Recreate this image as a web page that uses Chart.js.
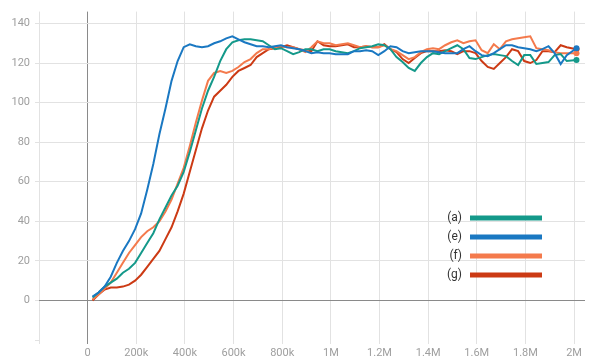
<!DOCTYPE html>
<html>
<head>
<meta charset="utf-8">
<script src="https://cdn.jsdelivr.net/npm/chart.js@4.4.1/dist/chart.umd.min.js"></script>
<style>
  html, body { margin: 0; padding: 0; background: #fff; }
  #wrap { width: 592px; height: 361px; }
</style>
</head>
<body>
<div id="wrap"><canvas id="Chart"></canvas></div>
<script>
// training steps (x)
const steps = [
  20000, 45000, 70000, 95000, 120000, 145000, 170000, 195000, 220000, 245000,
  270000, 295000, 320000, 345000, 370000, 395000, 420000, 445000, 470000, 495000,
  520000, 545000, 570000, 595000, 620000, 645000, 670000, 695000, 720000, 745000,
  770000, 795000, 820000, 845000, 870000, 895000, 920000, 945000, 970000, 995000,
  1020000, 1045000, 1070000, 1095000, 1120000, 1145000, 1170000, 1195000, 1220000, 1245000,
  1270000, 1295000, 1320000, 1345000, 1370000, 1395000, 1420000, 1445000, 1470000, 1495000,
  1520000, 1545000, 1570000, 1595000, 1620000, 1645000, 1670000, 1695000, 1720000, 1745000,
  1770000, 1795000, 1820000, 1845000, 1870000, 1895000, 1920000, 1945000, 1970000, 2010000
];

const runA = [
  1.5, 4, 7, 9, 11, 14, 16, 19, 24, 29,
  34, 41, 47, 53, 58, 65, 75, 86, 97, 106,
  113, 121, 127, 130.5, 131.5, 132, 132, 131.5, 131, 129,
  127, 127.5, 126, 124.5, 125.5, 127, 127, 126, 127, 127,
  126, 125.5, 125, 126, 127.5, 128, 128.5, 129.5, 129, 127,
  123, 120.5, 117.5, 116, 120, 123, 125, 124.5, 126, 127.5,
  129, 127, 122.5, 122, 123, 124, 124.5, 124, 123.5, 121,
  119, 124, 124, 119.5, 120, 120.5, 124, 124.5, 121, 121.5
];

const runE = [
  2, 4, 7, 12, 19, 25, 30, 36, 44, 56,
  69, 84, 97, 111, 121, 128, 129.5, 128.5, 128, 128.5,
  130, 131, 132.5, 133.5, 132, 130.5, 129.5, 128.5, 128.5, 128,
  128.5, 129, 128, 127.5, 127, 126, 125, 125.5, 125, 125,
  124.5, 124.5, 124.5, 126, 126, 126.5, 126, 124, 126, 128.5,
  128, 126, 125, 125.5, 126, 126, 126, 125.5, 125, 125,
  125, 127, 128.5, 126, 124, 123.5, 125, 127, 129, 129,
  128, 127.5, 127, 126, 127, 128.5, 125, 119.5, 124, 127.5
];

const runF = [
  0.5, 3, 6, 9, 14, 19, 24, 28, 32, 35,
  37, 40, 45, 51, 59, 67, 78, 90, 101, 111,
  115, 116, 115, 116, 118, 120.5, 122, 125, 127, 127,
  128, 128.5, 128, 128, 127, 125.5, 128, 131, 130, 130,
  129, 129.5, 130, 129, 128, 128.5, 128, 128, 129, 127,
  126, 124, 122, 123, 125.5, 127, 127.5, 127, 129, 130.5,
  131.5, 130, 131, 131.5, 126.5, 125, 129.5, 127, 131, 132,
  132.5, 133, 133.5, 127.5, 127, 126.5, 125.5, 125, 125, 125
];

const runG = [
  0, 3, 5.5, 6.5, 6.5, 7, 8, 10, 13, 17,
  21, 25, 31, 37, 45, 54, 65, 76, 87, 96,
  103, 106, 109, 113, 116, 117.5, 119, 123, 125, 127,
  127.5, 128, 129, 128, 127, 126.5, 126, 131, 129, 128.5,
  128.5, 129, 129.5, 128, 128, 128.5, 128, 128, 129.5, 127,
  125.5, 122, 120, 122.5, 125, 126, 126, 126, 126.5, 126,
  124.5, 126, 126, 125, 121, 118, 117, 120, 123, 127,
  126, 121, 120, 121.5, 126, 126, 125.5, 129, 128, 127
];

const runLabels = ["(a)", "(e)", "(f)", "(g)"];
const runColors = ["#14998a", "#1a78c2", "#f47a4c", "#cc3a14"];
const runValues = [runA, runE, runF, runG];

const yTicks = [-20, 0, 20, 40, 60, 80, 100, 120, 140];
const xTicks = [-200000, 0, 200000, 400000, 600000, 800000, 1000000, 1200000, 1400000, 1600000, 1800000, 2000000];

function fmtStep(v) {
  if (v < 0) return "";
  if (v === 0) return "0";
  if (v < 1000000) return Math.round(v / 1000) + "k";
  return Math.round(v / 100000) / 10 + "M";
}

const datasets = runValues.map((vals, i) => ({
  label: runLabels[i],
  data: steps.map((x, j) => ({ x: x, y: vals[j] })),
  borderColor: runColors[i],
  backgroundColor: runColors[i],
  borderWidth: 2,
  tension: 0,
  pointRadius: (ctx) => (ctx.dataIndex === steps.length - 1 ? 3 : 0),
  pointBorderWidth: 0,
  order: i === 1 ? 0 : i + 1,
}));

// legend drawn inside the plot, text left of a thick line
const insideLegend = {
  id: "insideLegend",
  afterDraw(chart) {
    const c = chart.ctx;
    c.save();
    c.font = "12px Roboto";
    c.textAlign = "right";
    c.textBaseline = "middle";
    runLabels.forEach((lab, i) => {
      const y = 218 + i * 19;
      c.fillStyle = "#333";
      c.fillText(lab, 462, y);
      c.fillStyle = runColors[i];
      c.fillRect(470, y - 2.5, 72, 5);
    });
    c.restore();
  },
};

Chart.defaults.font.family = "Roboto";

new Chart(document.getElementById("Chart"), {
  type: "line",
  data: { datasets: datasets },
  plugins: [insideLegend],
  options: {
    animation: false,
    responsive: true,
    maintainAspectRatio: false,
    layout: { padding: { top: 9, right: 7, left: 0, bottom: 0 } },
    plugins: {
      legend: { display: false },
      tooltip: { enabled: false },
    },
    scales: {
      x: {
        type: "linear",
        min: -200000,
        max: 2045000,
        afterBuildTicks: (scale) => {
          scale.ticks = xTicks.map((v) => ({ value: v }));
        },
        afterFit: (scale) => {
          scale.height = 21;
        },
        ticks: {
          color: "#9e9e9e",
          font: { size: 11 },
          padding: 3,
          maxRotation: 0,
          autoSkip: false,
          callback: (v) => fmtStep(v),
        },
        grid: {
          color: (ctx) => (ctx.tick && ctx.tick.value === 0 ? "#8a8a8a" : "#e2e2e2"),
          tickLength: 4,
        },
        border: { display: false },
      },
      y: {
        min: -20,
        max: 146,
        afterBuildTicks: (scale) => {
          scale.ticks = yTicks.map((v) => ({ value: v }));
        },
        afterFit: (scale) => {
          scale.width = 39;
        },
        ticks: {
          color: "#9e9e9e",
          font: { size: 11 },
          padding: 5,
          callback: (v) => (v === -20 ? "" : String(v)),
        },
        grid: {
          color: (ctx) => {
            if (!ctx.tick) return "#e2e2e2";
            if (ctx.tick.value === 0) return "#8a8a8a";
            if (ctx.tick.value === -20) return "rgba(0,0,0,0)";
            return "#e2e2e2";
          },
          tickColor: "#e2e2e2",
          tickLength: 4,
        },
        border: { display: false },
      },
    },
  },
});
</script>
</body>
</html>
